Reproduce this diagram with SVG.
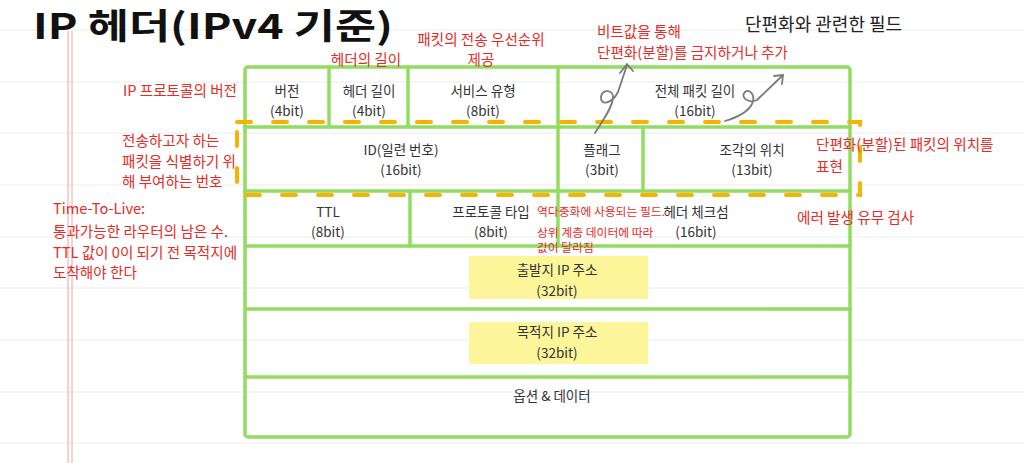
<svg xmlns="http://www.w3.org/2000/svg" width="1024" height="463" viewBox="0 0 1024 463">
<style>
text{font-family:'Noto Sans CJK KR','Noto Sans',sans-serif}
.cell{font-size:13.5px;fill:#333;text-anchor:middle}
.red{font-size:14.6px;fill:#e52b26}
.reds{font-size:11.8px;fill:#e52b26}
.rule{stroke:#ececec;stroke-width:1}
.grn{stroke:#93dc62;stroke-width:3.5;fill:none;stroke-linecap:round}
.dash{stroke:#f6b400;stroke-width:4;fill:none;stroke-dasharray:14 22;stroke-linecap:round}
.arr{stroke:#7a7a7a;stroke-width:1.8;fill:none;stroke-linecap:round;stroke-linejoin:round}
</style>
<rect width="1024" height="463" fill="#ffffff"/>
<g id="paper">
<line class="rule" x1="0" y1="30" x2="1024" y2="30"/>
<line class="rule" x1="0" y1="82" x2="1024" y2="82"/>
<line class="rule" x1="0" y1="133" x2="1024" y2="133"/>
<line class="rule" x1="0" y1="185" x2="1024" y2="185"/>
<line class="rule" x1="0" y1="237" x2="1024" y2="237"/>
<line class="rule" x1="0" y1="288" x2="1024" y2="288"/>
<line class="rule" x1="0" y1="340" x2="1024" y2="340"/>
<line class="rule" x1="0" y1="392" x2="1024" y2="392"/>
<line class="rule" x1="0" y1="443" x2="1024" y2="443"/>
<line x1="68" y1="31" x2="68" y2="463" stroke="#f2a3a3" stroke-width="1"/>
<line x1="72" y1="31" x2="72" y2="463" stroke="#f2a3a3" stroke-width="1"/>
</g>
<g id="title">
<text x="33" y="39" font-size="35" font-weight="700" fill="#111" textLength="360" lengthAdjust="spacingAndGlyphs">IP 헤더(IPv4 기준)</text>
</g>
<g id="header-table">
<rect x="245" y="67" width="605" height="370" rx="3" fill="#ffffff" class="grn"/>
<line class="grn" x1="245" y1="127" x2="850" y2="127"/>
<line class="grn" x1="245" y1="191" x2="850" y2="191"/>
<line class="grn" x1="245" y1="246" x2="850" y2="246"/>
<line class="grn" x1="245" y1="309" x2="850" y2="309"/>
<line class="grn" x1="245" y1="377" x2="850" y2="377"/>
<line class="grn" x1="329" y1="67" x2="329" y2="127"/>
<line class="grn" x1="408" y1="67" x2="408" y2="127"/>
<line class="grn" x1="558" y1="67" x2="558" y2="246"/>
<line class="grn" x1="643" y1="127" x2="643" y2="191"/>
<line class="grn" x1="410" y1="191" x2="410" y2="246"/>
<rect x="469" y="256" width="179" height="43" fill="#fcf59a"/>
<rect x="469" y="322" width="179" height="42" fill="#fcf59a"/>
</g>
<g id="version"><text class="cell" x="287" y="96">버전</text><text class="cell" x="287" y="116">(4bit)</text></g>
<g id="ihl"><text class="cell" x="369" y="96">헤더 길이</text><text class="cell" x="369" y="116">(4bit)</text></g>
<g id="tos"><text class="cell" x="483" y="96">서비스 유형</text><text class="cell" x="483" y="116">(8bit)</text></g>
<g id="total-length"><text class="cell" x="695" y="96">전체 패킷 길이</text><text class="cell" x="695" y="116">(16bit)</text></g>
<g id="identification"><text class="cell" x="401" y="155">ID(일련 번호)</text><text class="cell" x="401" y="175">(16bit)</text></g>
<g id="flags"><text class="cell" x="602" y="155">플래그</text><text class="cell" x="602" y="175">(3bit)</text></g>
<g id="fragment-offset"><text class="cell" x="752" y="155">조각의 위치</text><text class="cell" x="752" y="175">(13bit)</text></g>
<g id="ttl"><text class="cell" x="328" y="217">TTL</text><text class="cell" x="328" y="237">(8bit)</text></g>
<g id="protocol"><text class="cell" x="491" y="217">프로토콜 타입</text><text class="cell" x="491" y="237">(8bit)</text></g>
<g id="checksum"><text class="cell" x="696" y="217">헤더 체크섬</text><text class="cell" x="696" y="237">(16bit)</text></g>
<g id="src-ip"><text class="cell" x="557" y="275">출발지 IP 주소</text><text class="cell" x="557" y="296">(32bit)</text></g>
<g id="dst-ip"><text class="cell" x="557" y="337">목적지 IP 주소</text><text class="cell" x="557" y="358">(32bit)</text></g>
<g id="options"><text class="cell" x="552" y="401">옵션 &amp; 데이터</text></g>
<g id="fragment-group">
<rect class="dash" x="237" y="122" width="623" height="73"/>
<text x="745" y="31" font-size="18" fill="#222">단편화와 관련한 필드</text>
</g>
<g id="notes">
<text class="red" x="237" y="96" text-anchor="end">IP 프로토콜의 버전</text>
<text class="red" x="366" y="65" text-anchor="middle" font-size="13.5">헤더의 길이</text>
<text class="red" x="481" y="45" text-anchor="middle">패킷의 전송 우선순위</text>
<text class="red" x="481" y="65" text-anchor="middle">제공</text>
<text class="red" x="597" y="37">비트값을 통해</text>
<text class="red" x="597" y="58">단편화(분할)를 금지하거나 추가</text>
<text class="red" x="122" y="146">전송하고자 하는</text>
<text class="red" x="122" y="167">패킷을 식별하기 위</text>
<text class="red" x="122" y="187">해 부여하는 번호</text>
<text class="red" x="816" y="150">단편화(분할)된 패킷의 위치를</text>
<text class="red" x="816" y="172">표현</text>
<text class="red" x="797" y="223">에러 발생 유무 검사</text>
<text class="red" x="53" y="214">Time-To-Live:</text>
<text class="red" x="53" y="237">통과가능한 라우터의 남은 수.</text>
<text class="red" x="53" y="258">TTL 값이 0이 되기 전 목적지에</text>
<text class="red" x="53" y="278">도착해야 한다</text>
<text class="reds" x="537" y="216">역다중화에 사용되는 필드.</text>
<text class="reds" x="537" y="237">상위 계층 데이터에 따라</text>
<text class="reds" x="537" y="252">값이 달라짐</text>
</g>
<g id="connectors">
<path class="arr" d="M595,133 C603,120 612,108 613,98 C614,90 602,88 601,97 C600,106 612,104 618,92 L627,65"/>
<path class="arr" d="M620,73 L627,64 L633,71"/>
<path class="arr" d="M725,121 C735,118 748,112 752,104 C756,96 750,88 745,92 C740,97 748,104 757,100 L783,75"/>
<path class="arr" d="M774,76 L783,75 L782,84"/>
</g>
</svg>
